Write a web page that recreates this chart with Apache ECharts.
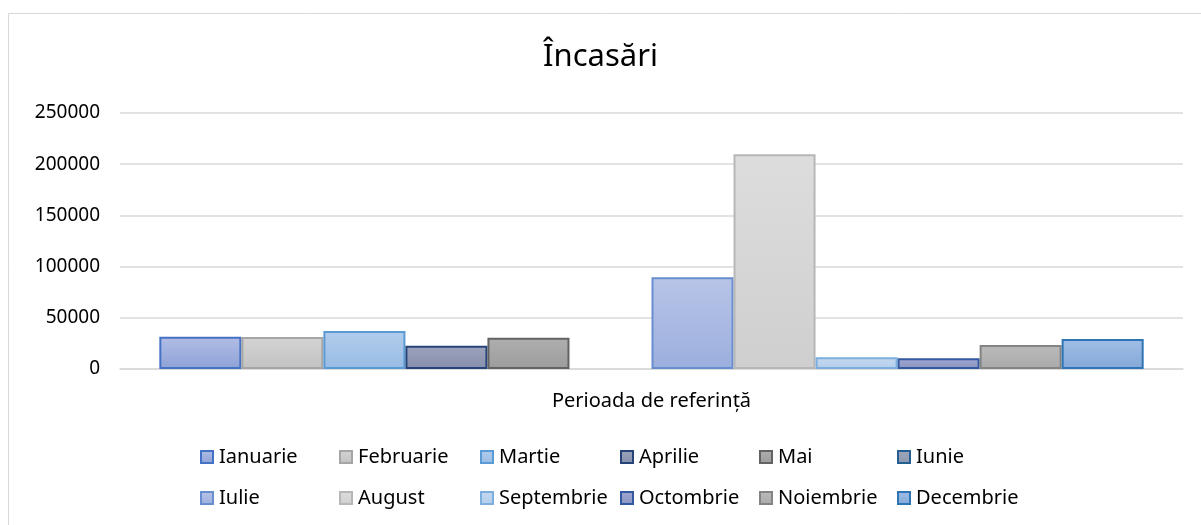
<!DOCTYPE html>
<html>
<head>
<meta charset="utf-8">
<title>Încasări</title>
<script src="https://cdn.jsdelivr.net/npm/echarts@6/dist/echarts.min.js"></script>
<style>
  html, body { margin: 0; padding: 0; background: #fff; }
  #chart { width: 1201px; height: 525px; }
</style>
</head>
<body>
<div id="chart"></div>
<script>
// data
const categories = ['Perioada de referință'];
const months = ['Ianuarie', 'Februarie', 'Martie', 'Aprilie', 'Mai', 'Iunie',
                'Iulie', 'August', 'Septembrie', 'Octombrie', 'Noiembrie', 'Decembrie'];
const values = [31500, 31300, 37000, 22800, 30600, 0,
                89500, 209600, 11400, 10400, 23400, 29300];
const yTicks = [0, 50000, 100000, 150000, 200000, 250000];

// [top, bottom, border]
const colors = [
  ['#b1bde5', '#8ea2d7', '#4472c4'],
  ['#d4d4d4', '#c2c2c2', '#a5a5a5'],
  ['#b2cceb', '#97bce5', '#5b9bd5'],
  ['#9da3bb', '#858fac', '#264478'],
  ['#afafaf', '#9c9c9c', '#636363'],
  ['#a0a8bd', '#8a95ae', '#255e91'],
  ['#b8c4e8', '#9bafdd', '#698ed0'],
  ['#dddddd', '#cfcfcf', '#b7b7b7'],
  ['#c5d9f0', '#b2cdec', '#7cafdd'],
  ['#9ea6d0', '#8c96c2', '#335aa1'],
  ['#bababa', '#aaaaaa', '#848484'],
  ['#a0bee6', '#84a8d8', '#2e75b6']
];

const font = 'Noto Sans';

let myChart = echarts.init(document.getElementById('chart'));

const series = months.map((m, i) => ({
  name: m,
  type: 'bar',
  barGap: 0,
  barCategoryGap: '7.4%',
  data: [values[i] === 0 ? { value: 0, itemStyle: { borderWidth: 0 } } : values[i]],
  itemStyle: {
    color: new echarts.graphic.LinearGradient(0, 0, 0, 1, [
      { offset: 0, color: colors[i][0] },
      { offset: 1, color: colors[i][1] }
    ]),
    borderColor: colors[i][2],
    borderWidth: 2
  }
}));

// one legend per item so the columns line up like the original
const legendCols = [200, 339, 480, 620, 759, 897];
const legendRows = [447, 488];
const legends = months.map((m, i) => ({
  left: legendCols[i % 6],
  top: legendRows[Math.floor(i / 6)],
  data: [m],
  itemWidth: 12,
  itemHeight: 12,
  itemGap: 0,
  padding: 0,
  icon: 'rect',
  textStyle: { fontFamily: font, fontSize: 20, color: '#000', padding: [0, 0, 0, 1] }
}));

myChart.setOption({
  animation: false,
  textStyle: { fontFamily: font },
  graphic: [{
    type: 'rect',
    shape: { x: 8.5, y: 13.5, width: 1300, height: 700 },
    style: { fill: 'none', stroke: '#d9d9d9', lineWidth: 1 },
    silent: true
  }],
  title: {
    text: 'Încasări',
    left: 'center',
    top: 37,
    textStyle: { fontFamily: font, fontSize: 31, fontWeight: 'normal', color: '#000' }
  },
  legend: legends,
  grid: { left: 120, right: 18, top: 113, bottom: 156 },
  xAxis: {
    type: 'category',
    data: categories,
    axisLine: { lineStyle: { color: '#d9d9d9', width: 1.5 } },
    axisTick: { show: false },
    axisLabel: { margin: 22, fontFamily: font, fontSize: 20, color: '#000' }
  },
  yAxis: {
    type: 'value',
    min: yTicks[0],
    max: yTicks[yTicks.length - 1],
    interval: 50000,
    axisLine: { show: false },
    axisTick: { show: false },
    splitLine: { lineStyle: { color: '#d9d9d9', width: 1.5 } },
    axisLabel: {
      margin: 20, fontFamily: font, fontSize: 19, color: '#000',
      formatter: v => String(v)
    }
  },
  series: series
});
</script>
</body>
</html>
